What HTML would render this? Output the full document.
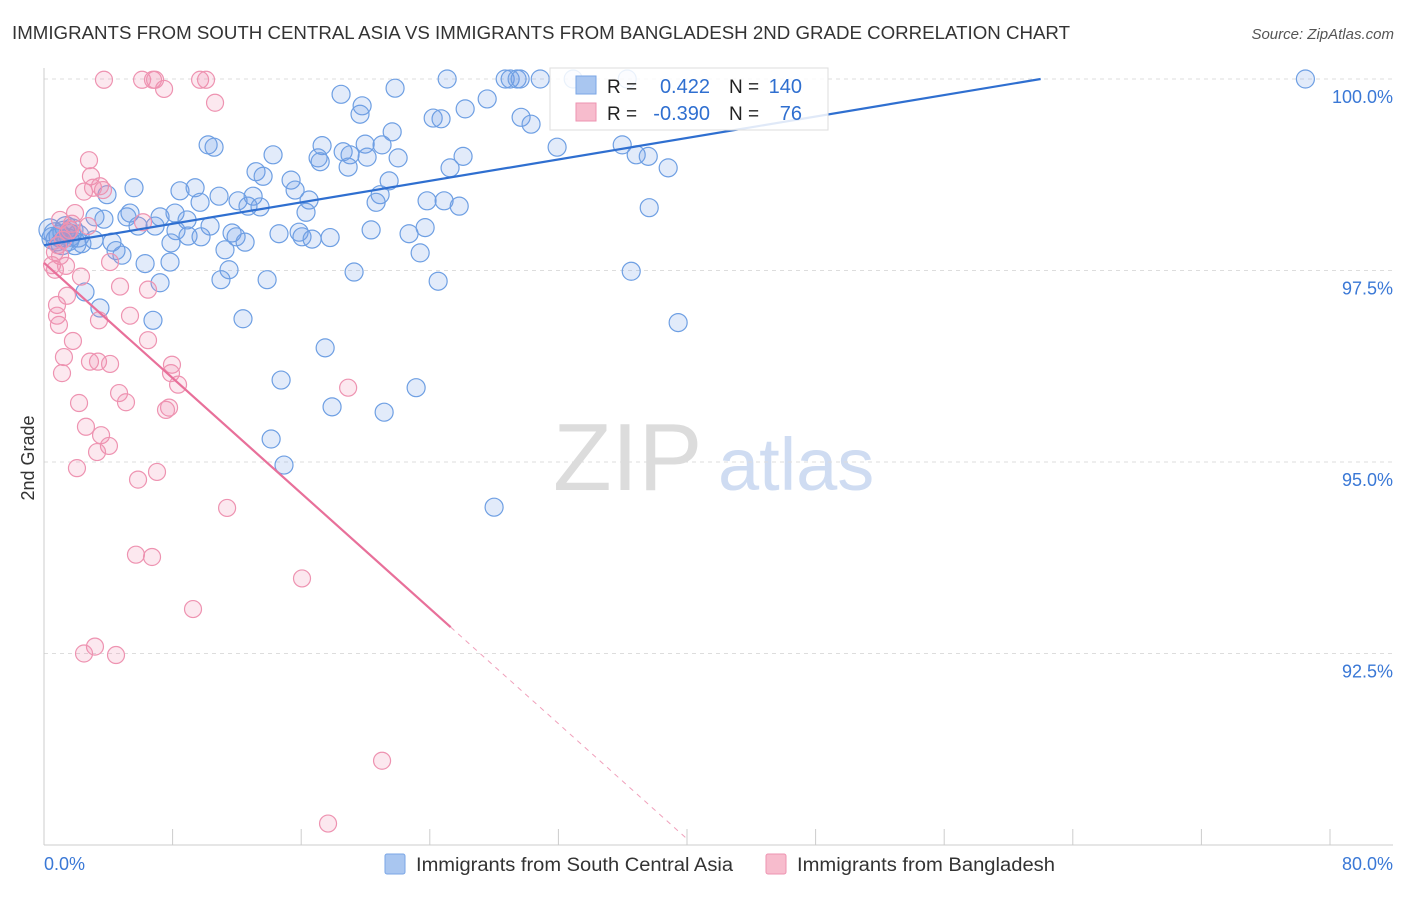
<!DOCTYPE html>
<html><head><meta charset="utf-8"><style>
body{margin:0;background:#fff;font-family:"Liberation Sans",sans-serif;}
svg text{font-family:"Liberation Sans",sans-serif;}
</style></head><body>
<svg id="chart" width="1406" height="892" xmlns="http://www.w3.org/2000/svg">
<text x="12" y="39" font-size="18" fill="#333" textLength="1058" lengthAdjust="spacingAndGlyphs">IMMIGRANTS FROM SOUTH CENTRAL ASIA VS IMMIGRANTS FROM BANGLADESH 2ND GRADE CORRELATION CHART</text>
<text x="1394" y="39" font-size="15" fill="#555" font-style="italic" text-anchor="end">Source: ZipAtlas.com</text>
<text x="34" y="458" font-size="18" fill="#333" text-anchor="middle" transform="rotate(-90 34 458)">2nd Grade</text>
<g><text x="553" y="490" font-size="96" fill="#dcdcdc" font-family="Liberation Serif, serif">ZIP</text><text x="718" y="490" font-size="74" fill="#cfdcf2">atlas</text></g>
<g id="grid"></g><g id="axes"></g><g id="pts"></g><g id="lines"></g>
<g>
<rect x="550" y="68" width="278" height="62" fill="#fff" fill-opacity="0.85" stroke="#ddd"/>
<rect x="576" y="76" width="20" height="18" fill="#a9c6f0" stroke="#7aa6e6"/>
<rect x="576" y="103" width="20" height="18" fill="#f7bccd" stroke="#ee93b1"/>
<text x="607" y="93" font-size="19" fill="#222">R =</text><text x="710" y="93" font-size="20" fill="#2f6fd0" text-anchor="end">0.422</text>
<text x="729" y="93" font-size="19" fill="#222">N =</text><text x="802" y="93" font-size="20" fill="#2f6fd0" text-anchor="end">140</text>
<text x="607" y="120" font-size="19" fill="#222">R =</text><text x="710" y="120" font-size="20" fill="#2f6fd0" text-anchor="end">-0.390</text>
<text x="729" y="120" font-size="19" fill="#222">N =</text><text x="802" y="120" font-size="20" fill="#2f6fd0" text-anchor="end">76</text>
</g>
<g>
<rect x="385" y="854" width="20" height="20" fill="#a9c6f0" stroke="#7aa6e6" rx="2"/>
<text x="416" y="871" font-size="19" fill="#333" textLength="317" lengthAdjust="spacingAndGlyphs">Immigrants from South Central Asia</text>
<rect x="766" y="854" width="20" height="20" fill="#f7bccd" stroke="#ee93b1" rx="2"/>
<text x="797" y="871" font-size="19" fill="#333" textLength="258" lengthAdjust="spacingAndGlyphs">Immigrants from Bangladesh</text>
</g>
</svg>
<script>
const yTicks=[100,97.5,95,92.5];
const yTickLabels=["100.0%","97.5%","95.0%","92.5%"];
const xTicks=[0,8,16,24,32,40,48,56,64,72,80];
const xEndLabels=["0.0%","80.0%"];
const blueX=[78.47,25.08,28.69,29.0,29.43,29.62,30.87,32.92,36.28,21.84,18.48,19.79,19.66,27.57,26.2,24.21,24.7,29.68,30.3,31.92,35.97,36.84,37.59,38.83,37.65,36.53,39.45,28.0,10.21,10.58,14.25,17.3,17.05,18.61,19.04,19.98,20.1,21.03,21.66,22.03,26.07,25.26,17.18,18.92,13.19,13.63,15.37,15.62,21.47,20.91,20.66,16.49,16.3,23.83,24.89,25.83,5.6,8.46,9.4,10.89,12.07,13.01,12.69,13.44,3.92,3.17,3.73,5.35,5.16,7.22,8.15,8.9,9.71,5.85,6.91,8.21,10.33,11.7,12.51,14.62,15.87,16.05,16.68,17.8,20.35,22.71,23.71,8.96,9.77,7.9,11.26,11.95,3.11,4.23,4.85,4.48,2.36,1.93,6.29,7.84,11.51,11.01,13.88,19.29,23.4,24.52,7.22,2.55,3.48,6.78,12.38,17.49,14.75,17.92,21.16,23.15,14.13,14.93,0.37,0.68,1.0,1.24,1.49,1.74,0.81,1.37,2.12,0.56,1.12,1.62];
const blueY=[100,100,100,100,100,100,100,100,100,99.88,99.8,99.65,99.54,99.74,99.61,99.49,99.48,99.5,99.41,99.11,99.14,99.01,98.99,98.84,98.32,97.49,96.82,94.41,99.14,99.11,99.01,99.13,98.97,99.05,99.01,99.15,98.98,99.14,99.31,98.97,98.99,98.84,98.92,98.85,98.79,98.73,98.68,98.55,98.67,98.49,98.39,98.42,98.26,98.41,98.41,98.34,98.58,98.54,98.58,98.47,98.41,98.47,98.34,98.33,98.49,98.2,98.17,98.25,98.2,98.2,98.25,98.16,98.39,98.08,98.08,98.02,98.08,97.99,97.87,97.98,98.0,97.94,97.91,97.93,98.03,97.98,98.06,97.95,97.94,97.86,97.77,97.94,97.9,97.87,97.7,97.76,97.85,97.85,97.59,97.61,97.51,97.38,97.38,97.48,97.73,97.36,97.34,97.22,97.01,96.85,96.87,96.49,96.07,95.72,95.65,95.97,95.3,94.96,98.03,97.98,97.95,98.0,97.9,98.03,97.9,98.06,97.95,97.92,97.85,97.96];
const pinkX=[3.73,6.1,6.78,6.91,9.71,10.08,7.47,10.64,2.8,2.92,3.48,3.67,2.49,3.05,1.93,1.74,1.62,1.49,1.18,0.87,0.68,1.0,0.5,0.68,1.37,4.11,2.3,4.73,6.47,1.43,0.81,3.42,5.35,0.81,0.93,1.8,6.47,1.24,1.12,2.86,3.36,4.11,7.96,7.9,8.34,18.92,4.67,5.1,2.18,7.78,7.59,2.61,3.55,4.04,3.3,2.05,7.03,5.85,11.39,5.72,6.72,16.05,9.27,3.17,2.49,4.48,21.03,17.67,6.16,2.74,1.0];
const pinkY=[99.99,99.99,99.99,99.99,99.99,99.99,99.87,99.69,98.94,98.73,98.6,98.55,98.53,98.58,98.25,98.11,98.03,98.0,97.9,97.83,97.74,97.69,97.57,97.51,97.56,97.61,97.42,97.29,97.25,97.17,97.05,96.85,96.91,96.91,96.79,96.58,96.59,96.37,96.16,96.31,96.31,96.28,96.27,96.16,96.01,95.97,95.9,95.78,95.77,95.71,95.68,95.46,95.35,95.21,95.13,94.92,94.87,94.77,94.4,93.79,93.76,93.48,93.08,92.59,92.5,92.48,91.1,90.28,98.13,98.08,98.16];
const blueFit=[97.83,0.035]; // intercept, slope
const pinkFit=[97.6,-0.188];
const pinkSolidEnd=25.3, pinkDashEnd=40;

const NS="http://www.w3.org/2000/svg";
const X=v=>44+v*16.075, Y=v=>79+(100-v)*76.6;
function mk(t,a,p){const e=document.createElementNS(NS,t);for(const k in a)e.setAttribute(k,a[k]);p.appendChild(e);return e;}
const grid=document.getElementById('grid'),axes=document.getElementById('axes'),pts=document.getElementById('pts'),lines=document.getElementById('lines');
yTicks.forEach((t,i)=>{
  const g=mk('line',{x1:44,x2:1393,y1:Y(t),y2:Y(t),stroke:'#ddd','stroke-dasharray':'4,4'},grid);
  
  
  const l=mk('text',{x:1393,y:Y(t)+24,'font-size':18,fill:'#3a78d6','text-anchor':'end'},axes);
  l.textContent=yTickLabels[i];
  
  
});
const ax=mk('line',{x1:44,x2:44,y1:68,y2:845,stroke:'#ccc'},axes);


const bx=mk('line',{x1:44,x2:1393,y1:845,y2:845,stroke:'#ccc'},axes);


xTicks.forEach(t=>{const k=mk('line',{x1:X(t),x2:X(t),y1:829,y2:845,stroke:'#ccc'},axes);
  
  });
const l0=mk('text',{x:44,y:870,'font-size':18,fill:'#3a78d6'},axes);l0.textContent=xEndLabels[0];


const l1=mk('text',{x:1393,y:870,'font-size':18,fill:'#3a78d6','text-anchor':'end'},axes);l1.textContent=xEndLabels[1];


blueX.forEach((v,i)=>{const c=mk('circle',{cx:X(v),cy:Y(blueY[i]),r:v<2.2?11:9,fill:'rgba(110,155,230,0.2)',stroke:'#6e9fe3','stroke-width':1.2},pts);
  
  });
pinkX.forEach((v,i)=>{const c=mk('circle',{cx:X(v),cy:Y(pinkY[i]),r:8.5,fill:'rgba(240,140,175,0.2)',stroke:'#ee93b1','stroke-width':1.2},pts);
  
  });
const bxEnd=(100-blueFit[0])/blueFit[1];
const bl=mk('line',{x1:X(0),y1:Y(blueFit[0]),x2:X(bxEnd),y2:Y(100),stroke:'#2f6fd0','stroke-width':2.2},lines);


const pl=mk('line',{x1:X(0),y1:Y(pinkFit[0]),x2:X(pinkSolidEnd),y2:Y(pinkFit[0]+pinkFit[1]*pinkSolidEnd),stroke:'#e8709a','stroke-width':2.2},lines);


const pd=mk('line',{x1:X(pinkSolidEnd),y1:Y(pinkFit[0]+pinkFit[1]*pinkSolidEnd),x2:X(pinkDashEnd),y2:Y(pinkFit[0]+pinkFit[1]*pinkDashEnd),stroke:'#f0a0bb','stroke-width':1,'stroke-dasharray':'5,5'},lines);


</script>
</body></html>
